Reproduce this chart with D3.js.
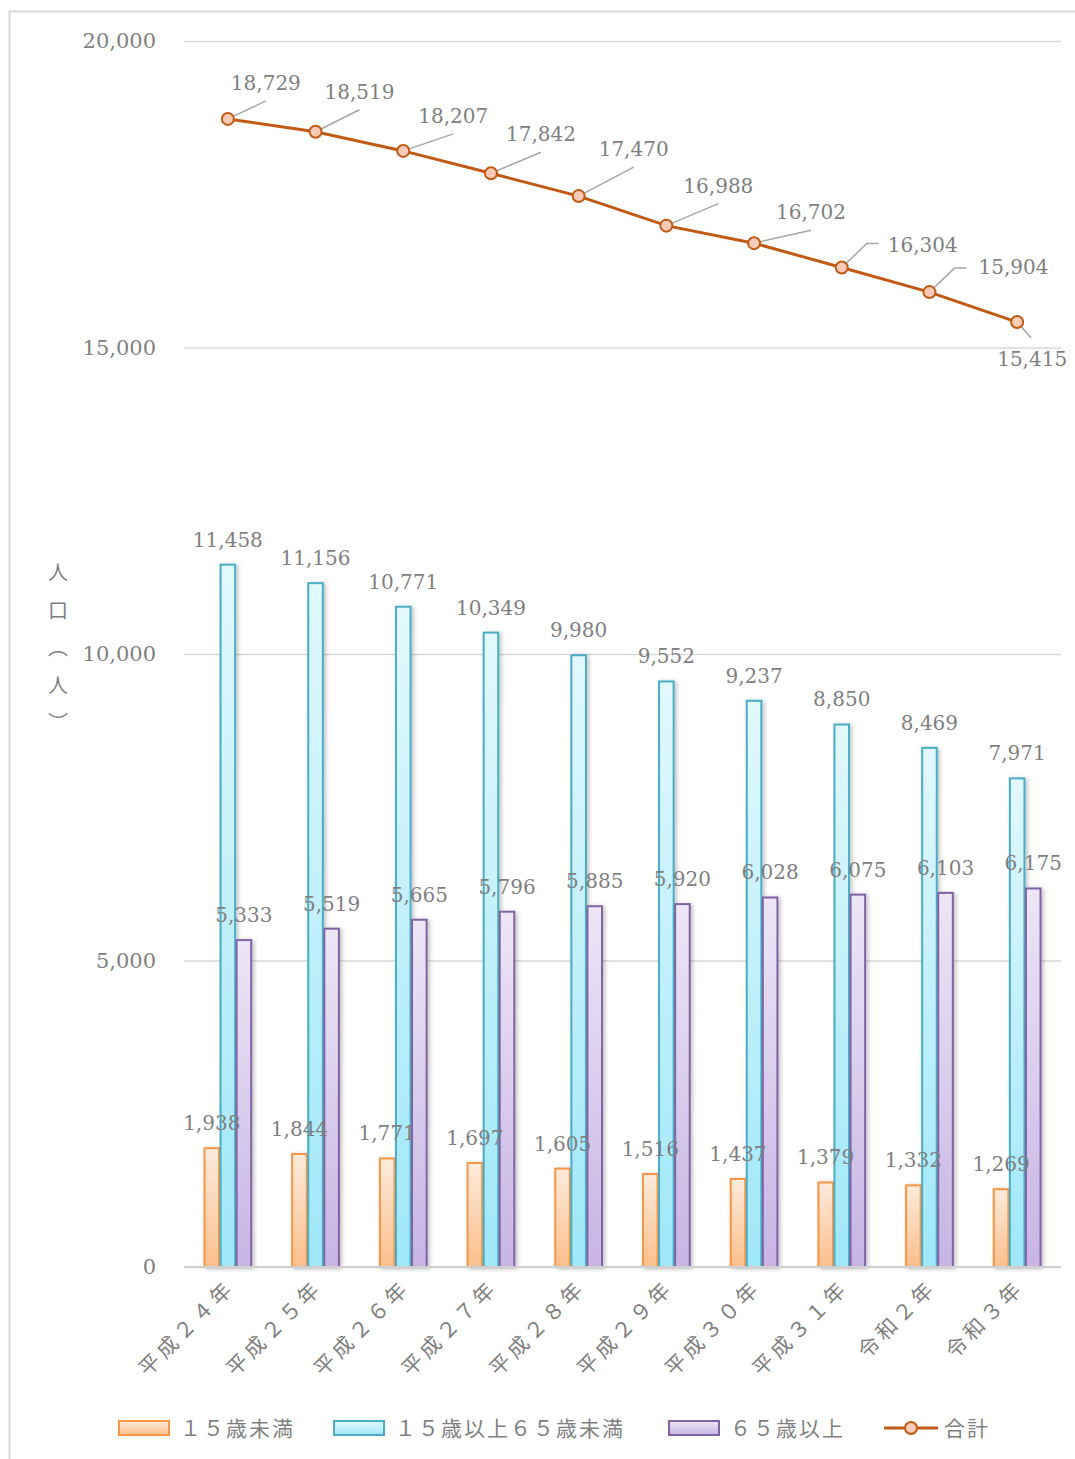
<!DOCTYPE html>
<html lang="ja">
<head>
    <meta charset="UTF-8">
    <title>人口の推移</title>
    <script src="https://cdn.jsdelivr.net/npm/d3@7/dist/d3.min.js"></script>
    <style>
        body{
            margin: 0;
            background: white;
        }
        .num{
            font-family: "DejaVu Serif", serif;
            font-size: 20px;
            fill: #7f7f7f;
        }
        .jp{
            font-family: "Noto Sans CJK JP", sans-serif;
            fill: #7f7f7f;
        }
    </style>
</head>
<body>
<svg id="main" width="1075" height="1459"></svg>
<script>
    const years = ['平成２４年','平成２５年','平成２６年','平成２７年','平成２８年','平成２９年','平成３０年','平成３１年','令和２年','令和３年']
    const under15 = [1938,1844,1771,1697,1605,1516,1437,1379,1332,1269]
    const age15to64 = [11458,11156,10771,10349,9980,9552,9237,8850,8469,7971]
    const over65 = [5333,5519,5665,5796,5885,5920,6028,6075,6103,6175]
    const total = [18729,18519,18207,17842,17470,16988,16702,16304,15904,15415]
    const yTicks = [0,5000,10000,15000,20000]
    const seriesNames = ['１５歳未満','１５歳以上６５歳未満','６５歳以上','合計']

    const margin = {top: 41, bottom: 192, left: 184, right: 14}
    const width = 1075, height = 1459

    const svg = d3.select('svg#main')
    const defs = svg.append('defs')

    // bar colours: [top, bottom, stroke]
    const barStyles = [
        {top:'#fdebdc', bottom:'#fbbf8c', stroke:'#f79646'},
        {top:'#e2f8fd', bottom:'#9fe7f9', stroke:'#4bacc6'},
        {top:'#ece6f6', bottom:'#c7b4e4', stroke:'#8064a2'}
    ]
    barStyles.forEach((s,i)=>{
        const g = defs.append('linearGradient').attr('id','grad'+i)
            .attr('x1',0).attr('y1',0).attr('x2',0).attr('y2',1)
        g.append('stop').attr('offset','0%').attr('stop-color',s.top)
        g.append('stop').attr('offset','100%').attr('stop-color',s.bottom)
    })
    const shadow = defs.append('filter').attr('id','shadow')
        .attr('x','-30%').attr('y','-5%').attr('width','160%').attr('height','110%')
    shadow.append('feDropShadow').attr('dx',2).attr('dy',1).attr('stdDeviation',2)
        .attr('flood-color','#000').attr('flood-opacity',0.25)

    // outer frame
    svg.append('rect').attr('x',9.5).attr('y',11.5).attr('width',1100).attr('height',1500)
        .attr('fill','none').attr('stroke','#d9d9d9').attr('stroke-width',2)

    const xScale = d3.scaleBand()
        .domain(years)
        .range([margin.left, width-margin.right])
        .paddingInner(0.45)
        .paddingOuter(0.225)
    const xSub = d3.scaleBand()
        .domain([0,1,2])
        .range([0, xScale.bandwidth()])
    const yScale = d3.scaleLinear()
        .domain([0,20000])
        .range([height-margin.bottom, margin.top])
    const center = d=>xScale(d)+xScale.bandwidth()/2

    // grid + y axis
    const yAxis = d3.axisLeft(yScale)
        .tickValues(yTicks)
        .tickSize(-(width-margin.left-margin.right))
        .tickPadding(28)
        .tickFormat(d3.format(','))
    const yAxisGroup = svg.append('g')
        .attr('transform',`translate(${margin.left},0)`)
        .call(yAxis)
    yAxisGroup.select('.domain').remove()
    yAxisGroup.selectAll('.tick line').attr('stroke','#d9d9d9').attr('stroke-width',1.5)
    yAxisGroup.selectAll('.tick text').attr('class','num').attr('font-family',null).attr('font-size',null)
        .style('font-size','21px')

    // y axis title (vertical)
    const titleChars = ['人','口','︵','人','︶']
    svg.append('g').selectAll('text')
        .data(titleChars)
        .enter().append('text')
        .attr('class','jp')
        .attr('x',58)
        .attr('y',(_,i)=>580+i*37.5)
        .attr('text-anchor','middle')
        .attr('font-size',20)
        .text(d=>d)

    // bars
    const barSeries = [under15, age15to64, over65]
    const barGroup = svg.append('g').attr('filter','url(#shadow)')
    barSeries.forEach((vals,s)=>{
        barGroup.append('g').selectAll('rect')
            .data(vals)
            .enter().append('rect')
            .attr('x',(_,i)=>xScale(years[i])+xSub(s)+0.75)
            .attr('width',xSub.bandwidth()-1.5)
            .attr('y',d=>yScale(d))
            .attr('height',d=>yScale(0)-yScale(d))
            .attr('fill',`url(#grad${s})`)
            .attr('stroke',barStyles[s].stroke)
            .attr('stroke-width',2)
    })
    // baseline
    svg.append('line')
        .attr('x1',margin.left).attr('x2',width-margin.right)
        .attr('y1',yScale(0)).attr('y2',yScale(0))
        .attr('stroke','#d0d0d0').attr('stroke-width',2)

    // bar labels
    barSeries.forEach((vals,s)=>{
        svg.append('g').selectAll('text')
            .data(vals)
            .enter().append('text')
            .attr('class','num')
            .attr('x',(_,i)=>xScale(years[i])+xSub(s)+xSub.bandwidth()/2)
            .attr('y',d=>yScale(d)-18)
            .attr('text-anchor','middle')
            .text(d3.format(','))
    })

    // total line
    const line = d3.line()
        .x((_,i)=>center(years[i]))
        .y(d=>yScale(d))
    svg.append('path')
        .datum(total)
        .attr('d',line)
        .attr('fill','none')
        .attr('stroke','#c05a14')
        .attr('stroke-width',3)

    // label offsets for callouts on the line [dx, dy]
    const callout = [[38,-36],[44,-40],[50,-35],[50,-39],[55,-47],[52,-40],[57,-31],[81,-23],[84,-25],[15,37]]
    const calloutGroup = svg.append('g')
    total.forEach((v,i)=>{
        const px = center(years[i]), py = yScale(v)
        const [dx,dy] = callout[i]
        let pts
        if(i===7 || i===8){
            pts = [[px,py],[px+25,py-24],[px+37,py-24]]
        }else if(i===9){
            pts = [[px,py],[px+14,py+16]]
        }else{
            pts = [[px,py],[px+dx,py+dy+18]]
        }
        calloutGroup.append('path')
            .attr('d',d3.line()(pts))
            .attr('fill','none')
            .attr('stroke','#a6a6a6')
            .attr('stroke-width',1.5)
        calloutGroup.append('text')
            .attr('class','num')
            .attr('x',px+dx)
            .attr('y',py+dy+7)
            .attr('text-anchor','middle')
            .text(d3.format(',')(v))
    })

    // markers
    svg.append('g').selectAll('circle')
        .data(total)
        .enter().append('circle')
        .attr('cx',(_,i)=>center(years[i]))
        .attr('cy',d=>yScale(d))
        .attr('r',6)
        .attr('fill','#fbcbb8')
        .attr('stroke','#c05a14')
        .attr('stroke-width',2)

    // x labels
    svg.append('g').selectAll('text')
        .data(years)
        .enter().append('text')
        .attr('class','jp')
        .attr('font-size',21)
        .attr('letter-spacing',4)
        .attr('text-anchor','end')
        .attr('transform',d=>`translate(${center(d)+8},${yScale(0)+22}) rotate(-45)`)
        .text(d=>d)

    // legend
    const legendX = [118, 333, 668, 884]
    const legend = svg.append('g').attr('transform','translate(0,1428)')
    seriesNames.forEach((name,i)=>{
        const g = legend.append('g').attr('transform',`translate(${legendX[i]},0)`)
        if(i<3){
            g.append('rect')
                .attr('x',1).attr('y',-7).attr('width',50).attr('height',14)
                .attr('fill',`url(#grad${i})`)
                .attr('stroke',barStyles[i].stroke)
                .attr('stroke-width',2)
        }else{
            g.append('line').attr('x1',0).attr('x2',54).attr('y1',0).attr('y2',0)
                .attr('stroke','#c05a14').attr('stroke-width',3)
            g.append('circle').attr('cx',27).attr('cy',0).attr('r',6)
                .attr('fill','#fbcbb8').attr('stroke','#c05a14').attr('stroke-width',2)
        }
        g.append('text')
            .attr('class','jp')
            .attr('x',i<3?62:60)
            .attr('y',8)
            .attr('font-size',21)
            .attr('letter-spacing',2)
            .text(name)
    })
</script>
</body>
</html>
